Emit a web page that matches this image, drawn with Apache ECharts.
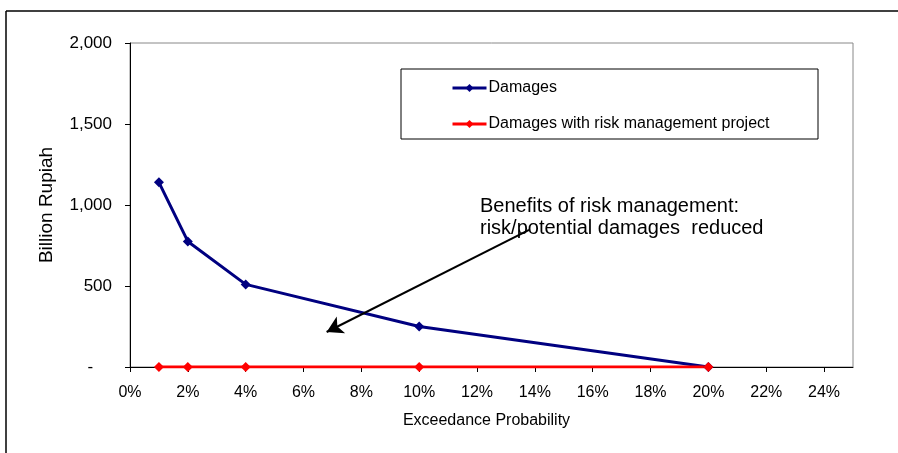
<!DOCTYPE html>
<html>
<head>
<meta charset="utf-8">
<script src="https://cdn.jsdelivr.net/npm/echarts@6/dist/echarts.min.js"></script>
<style>
	html, body { margin: 0; padding: 0; background: #fff; }
	#chart { width: 898px; height: 453px; }
</style>
</head>
<body>
<div id="chart"></div>
<script>
	// exceedance probability (%)
	var probs = [1, 2, 4, 10, 20];
	var damages = [1140, 775, 510, 250, 0];
	var damagesWithProject = [0, 0, 0, 0, 0];
	var xTicks = [0, 2, 4, 6, 8, 10, 12, 14, 16, 18, 20, 22, 24];
	var yTicks = [0, 500, 1000, 1500, 2000];

	function pairs(xs, ys) {
		return xs.map(function (x, i) { return [x, ys[i]]; });
	}

	var font = 'Liberation Sans, Arial, sans-serif';
	var myChart = echarts.init(document.getElementById('chart'), null, { renderer: 'canvas' });

	var option = {
		backgroundColor: '#fff',
		animation: false,
		textStyle: { fontFamily: font },
		grid: {
			left: 130, top: 43, right: 45, bottom: 86,
			show: true, borderColor: '#888', borderWidth: 1, backgroundColor: '#fff'
		},
		legend: {
			orient: 'vertical',
			left: 451, top: 80,
			padding: 0,
			itemWidth: 34, itemHeight: 10, itemGap: 20,
			lineStyle: { width: 3 },
			textStyle: { fontFamily: font, fontSize: 16, color: '#000', padding: [0, 0, 0, -3] },
			data: ['Damages', 'Damages with risk management project']
		},
		xAxis: {
			type: 'value',
			min: 0, max: 25,
			name: 'Exceedance Probability',
			nameLocation: 'middle',
			nameGap: 46,
			nameTextStyle: { fontFamily: font, fontSize: 16, color: '#000', padding: [0, 10, 0, 0] },
			axisLine: { lineStyle: { color: '#000', width: 1 } },
			axisTick: { show: true, length: 5, customValues: xTicks, lineStyle: { color: '#000' } },
			axisLabel: {
				customValues: xTicks, margin: 18,
				fontFamily: font, fontSize: 16, color: '#000',
				formatter: '{value}%'
			},
			splitLine: { show: false }
		},
		yAxis: {
			type: 'value',
			min: 0, max: 2000, interval: 500,
			name: 'Billion Rupiah',
			nameLocation: 'middle',
			nameGap: 74,
			nameTextStyle: { fontFamily: font, fontSize: 19, color: '#000' },
			axisLine: { show: true, lineStyle: { color: '#000', width: 1 } },
			axisTick: { show: true, length: 5, lineStyle: { color: '#000' } },
			axisLabel: {
				margin: 18,
				fontFamily: font, fontSize: 17, color: '#000',
				formatter: function (v) { return v === 0 ? '-    ' : v.toLocaleString('en-US'); }
			},
			splitLine: { show: false }
		},
		series: [
			{
				name: 'Damages',
				type: 'line',
				data: pairs(probs, damages),
				symbol: 'diamond', symbolSize: 10,
				itemStyle: { color: '#000080' },
				lineStyle: { color: '#000080', width: 3 },
				markLine: {
					silent: true,
					symbol: ['none', 'arrow'],
					symbolSize: [14, 16],
					label: { show: false },
					lineStyle: { color: '#000', width: 2, type: 'solid' },
					data: [[{ coord: [13.8, 846] }, { coord: [6.8, 216] }]]
				}
			},
			{
				name: 'Damages with risk management project',
				type: 'line',
				data: pairs(probs, damagesWithProject),
				symbol: 'diamond', symbolSize: 10,
				itemStyle: { color: '#ff0000' },
				lineStyle: { color: '#ff0000', width: 3 },
				z: 3
			}
		],
		graphic: [
			{ type: 'line', shape: { x1: 6, y1: 11, x2: 898, y2: 11 }, style: { stroke: '#000', lineWidth: 1.5 }, z: 10 },
			{ type: 'line', shape: { x1: 6, y1: 11, x2: 6, y2: 453 }, style: { stroke: '#000', lineWidth: 1.5 }, z: 10 },
			{ type: 'rect', shape: { x: 401, y: 69, width: 417, height: 70 }, style: { fill: 'none', stroke: '#000', lineWidth: 1 }, z: 1 },
			{
				type: 'text', left: 480, top: 195, z: 10,
				style: {
					text: 'Benefits of risk management:\nrisk/potential damages  reduced',
					font: '20px ' + font, fill: '#000', lineHeight: 22
				}
			}
		]
	};

	myChart.setOption(option);
</script>
</body>
</html>
